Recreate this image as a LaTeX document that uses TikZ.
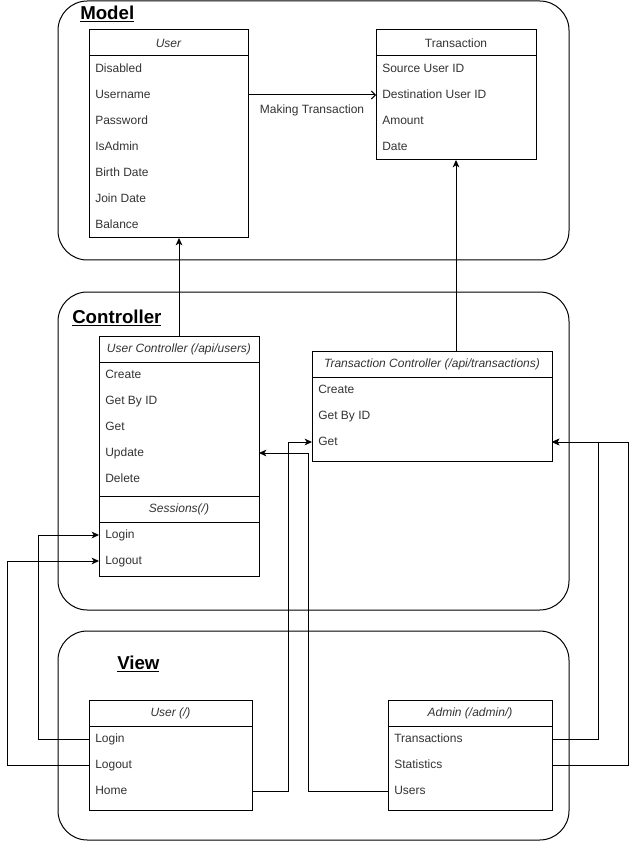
\documentclass[tikz,border=0pt]{standalone}
\usepackage{fontspec}
\setmainfont{Liberation Sans}
\usetikzlibrary{arrows.meta}
\usetikzlibrary{positioning}

\begin{document}
\begin{tikzpicture}[x=0.75pt,y=-0.75pt,
  layer/.style={draw,line width=.75pt,rounded corners=22pt},
  title/.style={anchor=west,inner sep=0pt,font=\fontsize{14}{16}\selectfont\bfseries},
  head/.style={draw,line width=.75pt,minimum height=19.5pt,inner sep=0pt,outer sep=0pt,text=black!80,font=\fontsize{9}{11}\selectfont\itshape},
  body/.style={draw,line width=.75pt,inner sep=0pt,outer sep=0pt,anchor=north},
  row/.style={anchor=west,inner xsep=4.5pt,inner ysep=0pt,text height=6.6pt,text depth=1.9pt,text=black!80,font=\fontsize{9}{11}\selectfont},
  link/.style={line width=.75pt,-{Stealth[length=5.5pt,width=5pt,inset=1.5pt]}},
  assoc/.style={line width=.75pt,-{Straight Barb[length=3pt,width=6pt]}}]
\useasboundingbox (0,0) rectangle (637,841);
% ---- three layers
\draw[layer] (58,1) rectangle (569,260);
\draw[layer] (58,292) rectangle (569,610);
\draw[layer] (58,631) rectangle (569,840);
\node[title] (modelTitle) at (80,14) {\underline{Model}};
\node[title] (ctrlTitle) at (72,318) {\underline{Controller}};
\node[title] (viewTitle) at (117,664) {\underline{View}};
% ---- model: User
\node[head,minimum width=119.25pt] (mUserHead) at (168.5,43) {User};
\node[body,minimum width=119.25pt,minimum height=136.5pt] (mUserBody) at (mUserHead.south) {};
\node[row] (mDisabled) at (89,69)  {Disabled};
\node[row] (mUsername) at (89,95)  {Username};
\node[row] (mPassword) at (89,121) {Password};
\node[row] (mIsAdmin)  at (89,147) {IsAdmin};
\node[row] (mBirth)    at (89,173) {Birth Date};
\node[row] (mJoin)     at (89,199) {Join Date};
\node[row] (mBalance)  at (89,225) {Balance};
% ---- model: Transaction
\node[head,minimum width=120pt,font=\fontsize{9}{11}\selectfont] (mTrHead) at (456,43) {Transaction};
\node[body,minimum width=120pt,minimum height=78pt] (mTrBody) at (mTrHead.south) {};
\node[row] (mSource) at (376,69)  {Source User ID};
\node[row] (mDest)   at (376,95)  {Destination User ID};
\node[row] (mAmount) at (376,121) {Amount};
\node[row] (mDate)   at (376,147) {Date};
% ---- controller: users + sessions
\node[head,minimum width=120pt] (ucHead) at (179,349) {User Controller (/api/users)};
\node[body,minimum width=120pt,minimum height=100.5pt] (ucBody) at (ucHead.south) {};
\node[row] (ucCreate) at (99,375) {Create};
\node[row] (ucGetId)  at (99,401) {Get By ID};
\node[row] (ucGet)    at (99,427) {Get};
\node[row] (ucUpdate) at (99,453) {Update};
\node[row] (ucDelete) at (99,479) {Delete};
\node[head,anchor=north,minimum width=120pt] (sessHead) at (ucBody.south) {Sessions(/)};
\node[body,minimum width=120pt,minimum height=40.5pt] (sessBody) at (sessHead.south) {};
\node[row] (sLogin)  at (99,535) {Login};
\node[row] (sLogout) at (99,561) {Logout};
% ---- controller: transactions
\node[head,minimum width=180pt] (tcHead) at (432,364) {Transaction Controller (/api/transactions)};
\node[body,minimum width=180pt,minimum height=63pt] (tcBody) at (tcHead.south) {};
\node[row] (tcCreate) at (312,390) {Create};
\node[row] (tcGetId)  at (312,416) {Get By ID};
\node[row] (tcGet)    at (312,442) {Get};
% ---- view: user pages
\node[head,minimum width=122.25pt] (vUserHead) at (170.5,713) {User (/)};
\node[body,minimum width=122.25pt,minimum height=63pt] (vUserBody) at (vUserHead.south) {};
\node[row] (vLogin)  at (89,739) {Login};
\node[row] (vLogout) at (89,765) {Logout};
\node[row] (vHome)   at (89,791) {Home};
% ---- view: admin pages
\node[head,minimum width=123pt] (vAdminHead) at (470,713) {Admin (/admin/)};
\node[body,minimum width=123pt,minimum height=63pt] (vAdminBody) at (vAdminHead.south) {};
\node[row] (aTrans) at (388,739) {Transactions};
\node[row] (aStats) at (388,765) {Statistics};
\node[row] (aUsers) at (388,791) {Users};
% ---- connectors
\draw[assoc] (mUsername.west -| mUserBody.east) -- (mDest.west)
  node[midway,below=4pt,text=black!80,font=\fontsize{9}{11}\selectfont] (mkTrans) {Making Transaction};
\draw[link] (ucHead.north) -- (ucHead.north |- mUserBody.south);
\draw[link] (tcHead.north -| mTrBody.south) -- (mTrBody.south);
\draw[link] (vLogin.west) -- ++(-51,0) |- (sLogin.west);
\draw[link] (vLogout.west) -- ++(-82,0) |- (sLogout.west);
\draw[link] (vHome.west -| vUserBody.east) -- ++(36,0) |- (tcGet.west);
\draw[link] (aUsers.west) -- ++(-80,0) |- (ucUpdate.west -| ucBody.east);
\draw[link] (aTrans.west -| vAdminBody.east) -- ++(46,0) |- (tcGet.west -| tcBody.east);
\draw[link] (aStats.west -| vAdminBody.east) -- ++(76,0) |- (tcGet.west -| tcBody.east);
\end{tikzpicture}
\end{document}
